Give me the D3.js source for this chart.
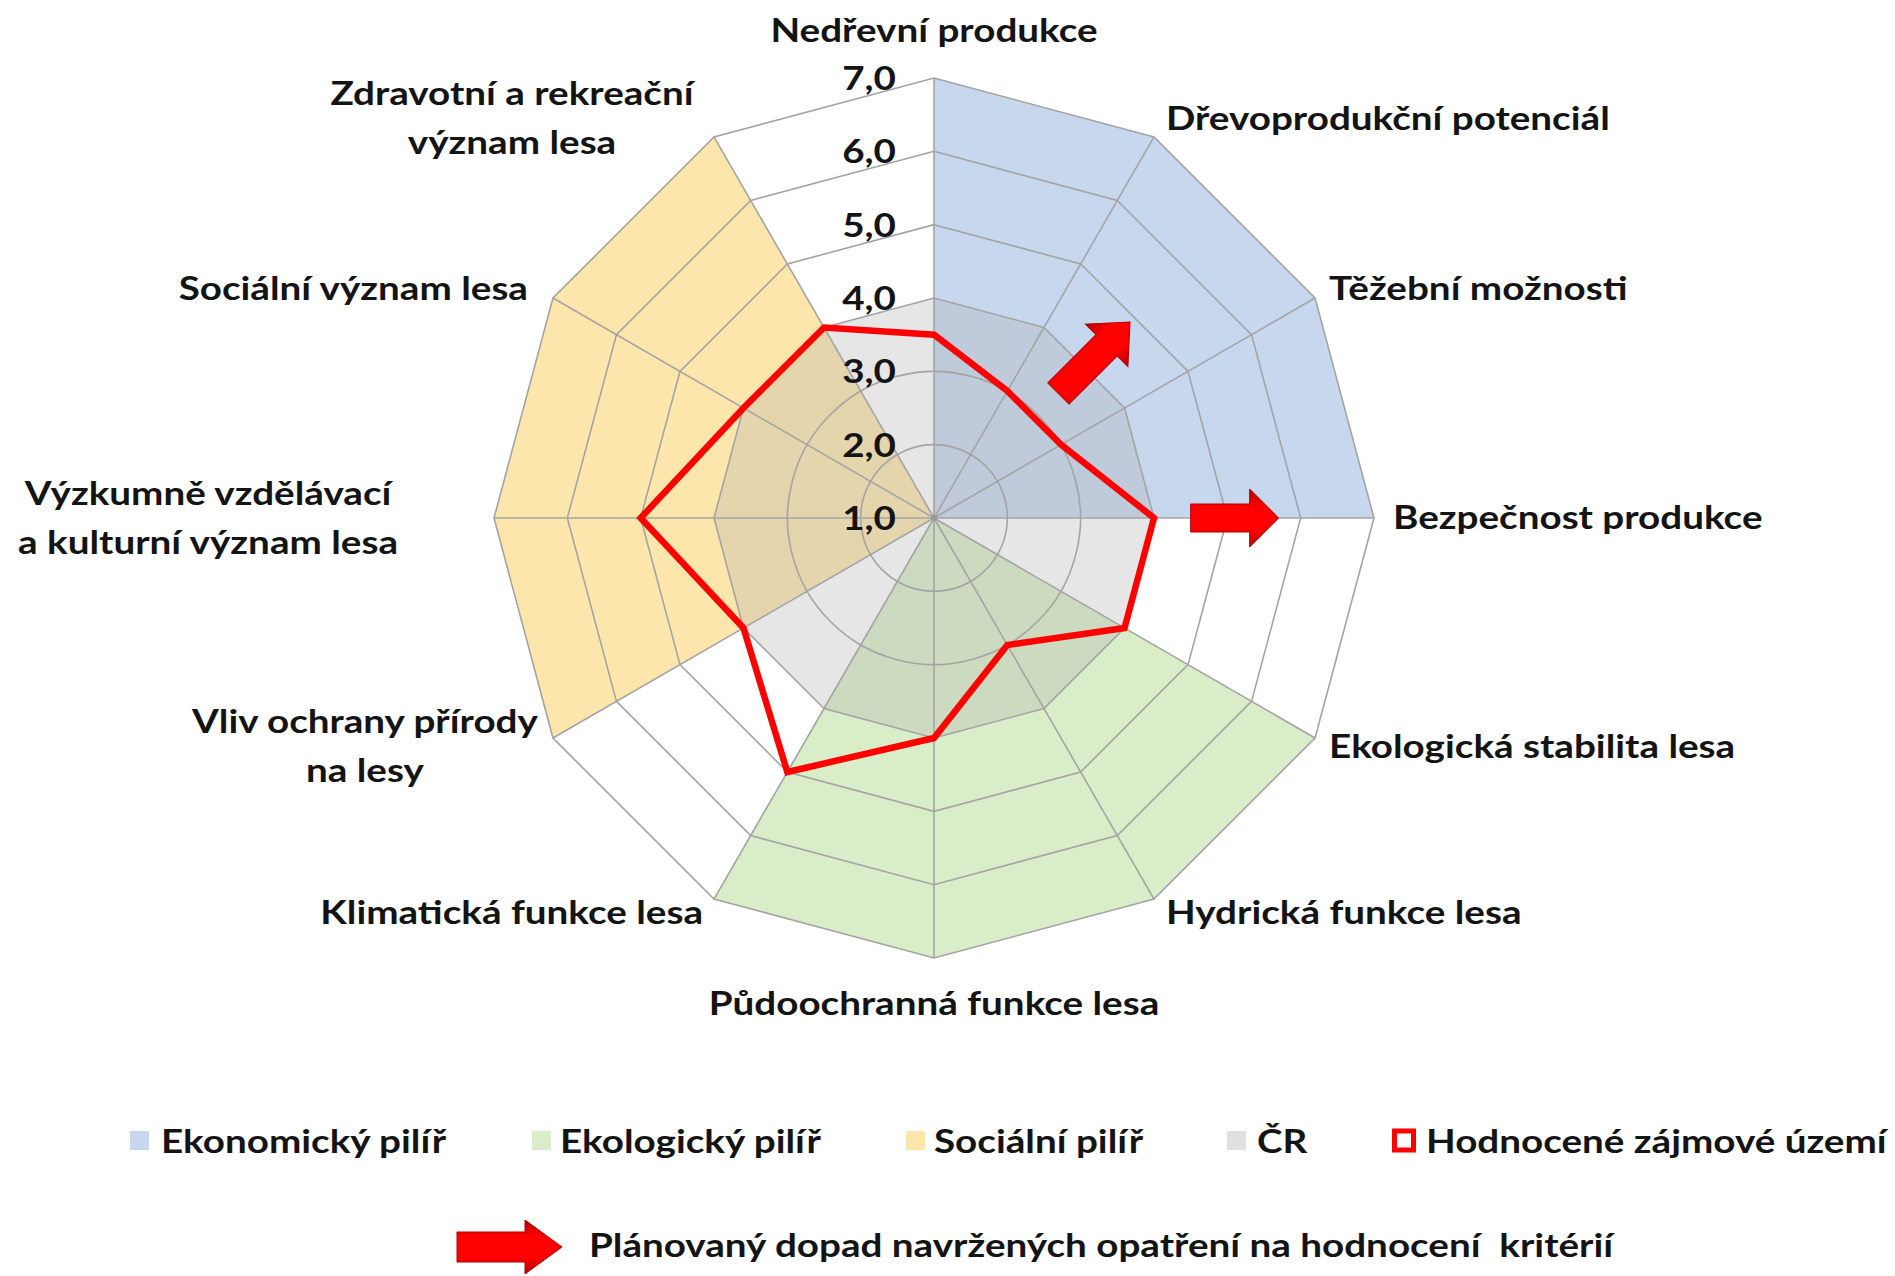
<!DOCTYPE html>
<html>
<head>
<meta charset="utf-8">
<script src="https://cdn.jsdelivr.net/npm/d3@7"></script>
<style>
  html, body { margin: 0; padding: 0; background: #fff; }
  svg { display: block; font-family: Lato, 'Open Sans', sans-serif; font-weight: bold; }
</style>
</head>
<body>
<svg id="chart"></svg>
<script>
// criteria, clockwise from the top
const criteria = [
  ['Nedřevní produkce'],
  ['Dřevoprodukční potenciál'],
  ['Těžební možnosti'],
  ['Bezpečnost produkce'],
  ['Ekologická stabilita lesa'],
  ['Hydrická funkce lesa'],
  ['Půdoochranná funkce lesa'],
  ['Klimatická funkce lesa'],
  ['Vliv ochrany přírody', 'na lesy'],
  ['Výzkumně vzdělávací', 'a kulturní význam lesa'],
  ['Sociální význam lesa'],
  ['Zdravotní a rekreační', 'význam lesa'],
];

// pillar backgrounds (0 = not part of the pillar)
const economic   = [7, 7, 7, 7, 0, 0, 0, 0, 0, 0, 0, 0];
const ecological = [0, 0, 0, 0, 7, 7, 7, 7, 0, 0, 0, 0];
const social     = [0, 0, 0, 0, 0, 0, 0, 0, 7, 7, 7, 7];

// ČR and the evaluated area
const czechRepublic = [4, 4, 4, 4, 4, 4, 4, 4, 4, 4, 4, 4];
const assessedArea  = [3.5, 3, 3, 4, 4, 3, 4, 5, 4, 5, 4, 4];

const ticks = [1, 2, 3, 4, 5, 6, 7];

// planned impact arrows: criterion position (fractional = between axes), from/to in axis units
const impactArrows = [
  {axis: 1.5, from: 3.4, to: 4.78},
  {axis: 3, from: 4.5, to: 5.7},
];

const legendLabels = ['Ekonomický pilíř', 'Ekologický pilíř', 'Sociální pilíř', 'ČR', 'Hodnocené zájmové území'];
const impactLabel = 'Plánovaný dopad navržených opatření na hodnocení  kritérií';

const width = 1895, height = 1276;
const cx = 934, cy = 518, R = 440;
const stretch = 1.17; // the original font is set wider than Lato
const colors = {
  economic: '#c6d7ee',
  ecological: '#d9eec8',
  social: '#fde6ab',
  cr: '#b0b0b0',
  grid: '#a4a4a4',
  red: '#ff0000',
  text: '#141414',
};

const svg = d3.select('#chart')
  .attr('width', width)
  .attr('height', height);

const defs = svg.append('defs');
const grad = defs.append('linearGradient')
  .attr('id', 'arrowGrad')
  .attr('x1', 0).attr('y1', 0).attr('x2', 0).attr('y2', 1);
grad.selectAll('stop')
  .data([[0, '#a80000'], [0.3, '#ff0000'], [0.7, '#ff0000'], [1, '#b00000']])
  .join('stop')
    .attr('offset', d => d[0])
    .attr('stop-color', d => d[1]);

const n = criteria.length;
const angle = i => i * 2 * Math.PI / n;
const rScale = d3.scaleLinear().domain([1, 7]).range([0, R]).clamp(true);

const polar = (a, r) => [r * Math.sin(a), -r * Math.cos(a)];

const radial = d3.lineRadial()
  .angle((d, i) => angle(i))
  .radius(d => rScale(d))
  .curve(d3.curveLinearClosed);

const roundRadial = d3.lineRadial()
  .angle((d, i) => angle(i))
  .radius(d => rScale(d))
  .curve(d3.curveCatmullRomClosed);

const g = svg.append('g').attr('transform', `translate(${cx},${cy})`);

// pillars
const pillars = [
  {values: economic, color: colors.economic},
  {values: ecological, color: colors.ecological},
  {values: social, color: colors.social},
];
g.append('g').selectAll('path')
  .data(pillars)
  .join('path')
    .attr('d', d => radial(d.values))
    .attr('fill', d => d.color);

// ČR
g.append('path')
  .attr('d', radial(czechRepublic))
  .attr('fill', colors.cr)
  .attr('fill-opacity', 0.32);

// grid rings
g.append('g').selectAll('path')
  .data(ticks.slice(1))
  .join('path')
    .attr('d', t => (t <= 3 ? roundRadial : radial)(criteria.map(() => t)))
    .attr('fill', 'none')
    .attr('stroke', colors.grid)
    .attr('stroke-width', 1.6);

// spokes
g.append('g').selectAll('line')
  .data(criteria)
  .join('line')
    .attr('x1', 0).attr('y1', 0)
    .attr('x2', (d, i) => polar(angle(i), rScale(7))[0])
    .attr('y2', (d, i) => polar(angle(i), rScale(7))[1])
    .attr('stroke', colors.grid)
    .attr('stroke-width', 1.6);

g.append('circle').attr('r', 3).attr('fill', '#999');

// evaluated area
g.append('path')
  .attr('d', radial(assessedArea))
  .attr('fill', 'none')
  .attr('stroke', colors.red)
  .attr('stroke-width', 6.5)
  .attr('stroke-linejoin', 'miter');

// arrows
const arrowPath = (L, w1, w2, h) =>
  `M0,${-w1}H${L - h}V${-w2}L${L},0L${L - h},${w2}V${w1}H0Z`;

g.append('g').selectAll('path')
  .data(impactArrows)
  .join('path')
    .attr('d', d => d.axis % 1 ? arrowPath(rScale(d.to) - rScale(d.from), 15, 30, 33)
                               : arrowPath(rScale(d.to) - rScale(d.from), 14, 29, 29))
    .attr('transform', d => {
      const a = angle(d.axis);
      const [x, y] = polar(a, rScale(d.from));
      return `translate(${x},${y}) rotate(${a * 180 / Math.PI - 90})`;
    })
    .attr('fill', 'url(#arrowGrad)')
    .attr('stroke', '#b00000')
    .attr('stroke-width', 1);

// tick labels
g.append('g').selectAll('text')
  .data(ticks)
  .join('text')
    .attr('class', 'wide')
    .attr('x', -38)
    .attr('y', t => -rScale(t))
    .attr('dy', '0.36em')
    .attr('text-anchor', 'end')
    .attr('font-size', 33)
    .attr('fill', colors.text)
    .text(t => d3.format('.1f')(t).replace('.', ','));

// criterion labels, offsets from the outer vertex
const labelLayout = [
  {anchor: 'middle', dx: 0, dy: -48},
  {anchor: 'start', dx: 12, dy: -19},
  {anchor: 'start', dx: 14, dy: -10},
  {anchor: 'start', dx: 19, dy: -1},
  {anchor: 'start', dx: 14, dy: 8},
  {anchor: 'start', dx: 12, dy: 13},
  {anchor: 'middle', dx: 0, dy: 45},
  {anchor: 'end', dx: -11, dy: 13},
  {anchor: 'middle', dx: -188, dy: -17},
  {anchor: 'middle', dx: -286, dy: -25},
  {anchor: 'end', dx: -25, dy: -10},
  {anchor: 'middle', dx: -202, dy: -44},
];
const lineGap = 49;

const labelLines = criteria.flatMap((lines, i) => lines.map((l, j) => ({l, i, j})));
g.append('g').selectAll('text')
  .data(labelLines)
  .join('text')
    .attr('class', 'wide')
    .attr('text-anchor', d => labelLayout[d.i].anchor)
    .attr('x', d => polar(angle(d.i), rScale(7))[0] + labelLayout[d.i].dx)
    .attr('y', d => polar(angle(d.i), rScale(7))[1] + labelLayout[d.i].dy + d.j * lineGap)
    .attr('dy', '0.36em')
    .attr('font-size', 33)
    .attr('fill', colors.text)
    .text(d => d.l);

// legend
const legendY = 1141;
const legendX = [130, 532, 906, 1227, 1392];
const textX = [161, 560, 934, 1257, 1426];
const swatch = [colors.economic, colors.ecological, colors.social, '#e0e0e0', null];
const legend = svg.append('g');
legendLabels.forEach((l, i) => {
  if (swatch[i]) {
    legend.append('rect')
      .attr('x', legendX[i]).attr('y', legendY - 10)
      .attr('width', 19).attr('height', 19)
      .attr('fill', swatch[i]);
  } else {
    legend.append('rect')
      .attr('x', legendX[i] + 2.5).attr('y', legendY - 10)
      .attr('width', 19).attr('height', 19)
      .attr('fill', '#fff')
      .attr('stroke', colors.red)
      .attr('stroke-width', 5);
  }
  legend.append('text')
    .attr('class', 'wide')
    .attr('x', textX[i]).attr('y', legendY)
    .attr('dy', '0.36em')
    .attr('font-size', 33)
    .attr('fill', colors.text)
    .text(l);
});

legend.append('path')
  .attr('d', arrowPath(105, 15, 27, 37))
  .attr('transform', 'translate(457,1247)')
  .attr('fill', 'url(#arrowGrad)')
  .attr('stroke', '#b00000')
  .attr('stroke-width', 1);
legend.append('text')
  .attr('class', 'wide')
  .attr('x', 589).attr('y', 1245)
  .attr('dy', '0.36em')
  .attr('font-size', 33)
  .attr('fill', colors.text)
  .style('white-space', 'pre')
  .text(impactLabel);

// widen every text to the original's letter width
svg.selectAll('text.wide').each(function () {
  const len = this.getComputedTextLength();
  d3.select(this)
    .attr('textLength', len * stretch)
    .attr('lengthAdjust', 'spacingAndGlyphs');
});
</script>
</body>
</html>
